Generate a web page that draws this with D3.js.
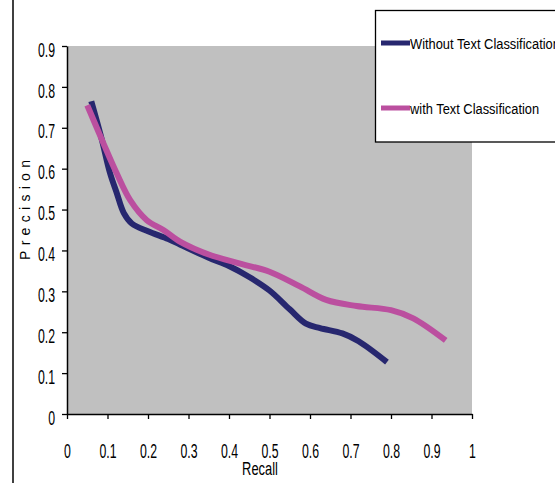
<!DOCTYPE html>
<html>
<head>
<meta charset="utf-8">
<script src="https://cdn.jsdelivr.net/npm/d3@7"></script>
<style>
  html, body { margin: 0; padding: 0; background: #fff; }
  svg { display: block; font-family: "Liberation Sans", Arial, sans-serif; }
</style>
</head>
<body>
<svg id="chart" width="555" height="483"></svg>
<script>
// Precision / recall curves, with and without text classification
const recallTicks = [0, 0.1, 0.2, 0.3, 0.4, 0.5, 0.6, 0.7, 0.8, 0.9, 1];
const precisionTicks = [0, 0.1, 0.2, 0.3, 0.4, 0.5, 0.6, 0.7, 0.8, 0.9];
const tickLabel = d => d === 0 ? "0" : d === 1 ? "1" : String(d);

const seriesNames = ["Without Text Classification", "with Text Classification"];
const seriesColors = ["#27276f", "#bb4f9f"];

// [recall, precision]
const withoutTextClassification = [
  [0.06, 0.765], [0.085, 0.675], [0.106, 0.59], [0.123, 0.54], [0.14, 0.492],
  [0.16, 0.466], [0.2, 0.447], [0.25, 0.428], [0.28, 0.414], [0.35, 0.382],
  [0.40, 0.362], [0.45, 0.335], [0.50, 0.302], [0.55, 0.256], [0.59, 0.221],
  [0.625, 0.21], [0.68, 0.197], [0.72, 0.178], [0.79, 0.127]
];
const withTextClassification = [
  [0.05, 0.755], [0.09, 0.662], [0.123, 0.588], [0.156, 0.523], [0.197, 0.474],
  [0.238, 0.45], [0.28, 0.421], [0.35, 0.39], [0.43, 0.367], [0.5, 0.348],
  [0.575, 0.312], [0.64, 0.279], [0.715, 0.264], [0.8, 0.254], [0.855, 0.234],
  [0.935, 0.18]
];
const series = [withoutTextClassification, withTextClassification];

const svg = d3.select("#chart");
const plot = { left: 67, right: 472, top: 46, bottom: 414 };

const x = d3.scaleLinear().domain([0, 1]).range([plot.left, plot.right]);
const y = d3.scaleLinear().domain([0, 0.9]).range([plot.bottom, plot.top]);

// outer frame line on the left
svg.append("line")
  .attr("x1", 13).attr("x2", 13).attr("y1", 0).attr("y2", 483)
  .attr("stroke", "#000").attr("stroke-width", 1.5);

// plot area
svg.append("rect")
  .attr("x", plot.left).attr("y", plot.top)
  .attr("width", plot.right - plot.left).attr("height", plot.bottom - plot.top)
  .attr("fill", "#c0c0c0");

const sx = 0.63; // narrow glyphs

// y axis
const yAxis = svg.append("g")
  .attr("transform", `translate(${plot.left},0)`)
  .call(d3.axisLeft(y).tickValues(precisionTicks).tickFormat(tickLabel).tickSize(5).tickSizeOuter(0));
yAxis.select(".domain").attr("stroke", "#000").attr("stroke-width", 1.5);
yAxis.selectAll(".tick line").attr("stroke", "#000").attr("stroke-width", 1.3);
yAxis.selectAll(".tick text")
  .attr("font-family", "Liberation Sans, Arial, sans-serif")
  .attr("font-size", 19.5)
  .attr("fill", "#000")
  .attr("x", -12 / sx)
  .attr("dy", "0.52em")
  .attr("transform", `scale(${sx},1)`);

// x axis
const xAxis = svg.append("g")
  .attr("transform", `translate(0,${plot.bottom})`)
  .call(d3.axisBottom(x).tickValues(recallTicks).tickFormat(tickLabel).tickSize(5).tickSizeOuter(0));
xAxis.select(".domain").attr("stroke", "#000").attr("stroke-width", 1.3);
xAxis.selectAll(".tick line").attr("stroke", "#000").attr("stroke-width", 1.3);
xAxis.selectAll(".tick text")
  .attr("font-family", "Liberation Sans, Arial, sans-serif")
  .attr("font-size", 19.5)
  .attr("fill", "#000")
  .attr("y", 44.5)
  .attr("dy", 0)
  .attr("transform", `scale(${sx},1)`);

// axis titles
svg.append("text")
  .attr("transform", `translate(260,475) scale(0.68,1)`)
  .attr("text-anchor", "middle")
  .attr("font-size", 19)
  .attr("fill", "#000")
  .text("Recall");

svg.append("text")
  .attr("transform", "translate(30,210) rotate(-90)")
  .attr("text-anchor", "middle")
  .attr("font-size", 14)
  .attr("textLength", 100)
  .attr("lengthAdjust", "spacing")
  .attr("fill", "#000")
  .text("Precision");

// curves
const line = d3.line()
  .x(d => x(d[0]))
  .y(d => y(d[1]))
  .curve(d3.curveCatmullRom.alpha(0.5));

svg.append("g").selectAll("path")
  .data(series)
  .join("path")
  .attr("d", line)
  .attr("fill", "none")
  .attr("stroke", (d, i) => seriesColors[i])
  .attr("stroke-width", 6)
  .attr("stroke-linejoin", "round")
  .attr("stroke-linecap", "butt");

// legend
const legend = svg.append("g");
legend.append("rect")
  .attr("x", 375.5).attr("y", 10.5)
  .attr("width", 200).attr("height", 131.5)
  .attr("fill", "#fff")
  .attr("stroke", "#000").attr("stroke-width", 1.3);

const legendRows = [43, 108];
seriesNames.forEach((name, i) => {
  legend.append("line")
    .attr("x1", 381).attr("x2", 410)
    .attr("y1", legendRows[i]).attr("y2", legendRows[i])
    .attr("stroke", seriesColors[i]).attr("stroke-width", 5);
  legend.append("text")
    .attr("transform", `translate(410,${legendRows[i] + 5.5}) scale(0.9,1)`)
    .attr("font-size", 14.3)
    .attr("fill", "#000")
    .text(name);
});
</script>
</body>
</html>
